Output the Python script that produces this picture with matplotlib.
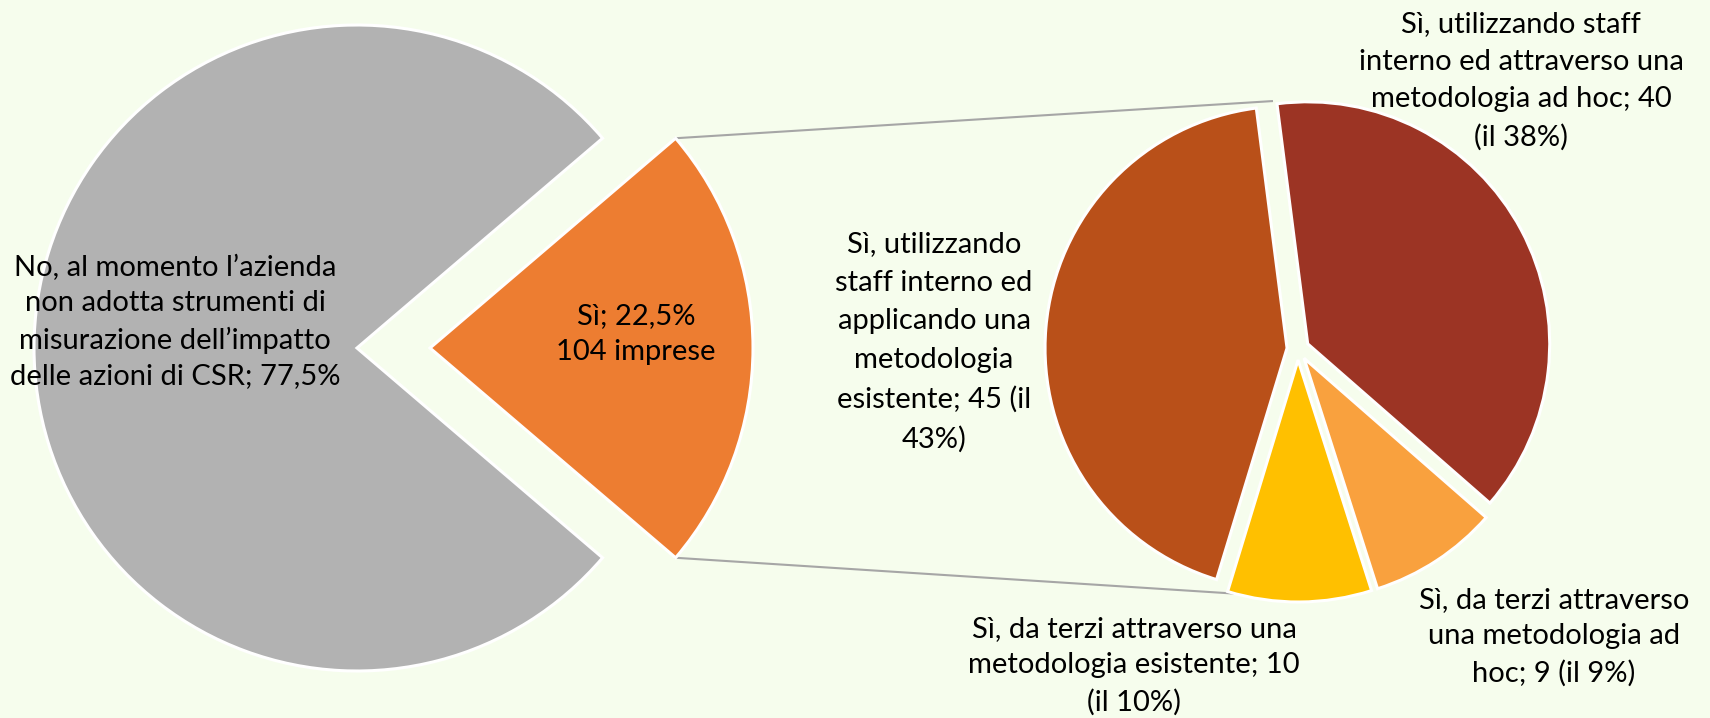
import numpy as np
import matplotlib
matplotlib.use('Agg')
import matplotlib.pyplot as plt

# Data ------------------------------------------------------------------
main_labels = ['No, al momento l\u2019azienda\nnon adotta strumenti di\nmisurazione dell\u2019impatto\ndelle azioni di CSR; 77,5%',
               'S\u00ec; 22,5%\n104 imprese']
main_values = [77.5, 22.5]
main_colors = ['#B2B2B2', '#ED7D31']

sub_labels = ['S\u00ec, utilizzando staff\ninterno ed attraverso una\nmetodologia ad hoc; 40\n(il 38%)',
              'S\u00ec, da terzi attraverso\nuna metodologia ad\nhoc; 9 (il 9%)',
              'S\u00ec, da terzi attraverso una\nmetodologia esistente; 10\n(il 10%)',
              'S\u00ec, utilizzando\nstaff interno ed\napplicando una\nmetodologia\nesistente; 45 (il\n43%)']
sub_values = [40, 9, 10, 45]
sub_colors = ['#9C3424', '#F9A13E', '#FFC000', '#B95019']

bg = '#F6FDED'
plt.rcParams['font.family'] = ['Lato', 'DejaVu Sans']

# Figure: one axes in pixel units (y up) ---------------------------------
W, H = 1710, 718
fig = plt.figure(figsize=(W / 100, H / 100), dpi=100, facecolor=bg)
ax = fig.add_axes([0, 0, 1, 1])
ax.set_facecolor(bg)

# main pie (explode is in data units here)
c1 = (357, H - 348)
r1 = 323
off1 = 73
half = main_values[1] / 100 * 360 / 2
ax.pie(main_values, colors=main_colors, startangle=half, counterclock=True,
       explode=[0, off1], center=c1, radius=r1,
       wedgeprops=dict(edgecolor='white', linewidth=2.2))

# secondary pie
c2 = (1298, H - 349)
r2 = 242
ax.pie(sub_values, colors=sub_colors, startangle=97.3, counterclock=False,
       explode=[11] * 4, center=c2, radius=r2,
       wedgeprops=dict(edgecolor='white', linewidth=2.2))

# connector lines from the orange slice to the secondary pie
oc = (c1[0] + off1, c1[1])
for a_from, a_to in [(half, 96), (-half, -99)]:
    x0 = oc[0] + r1 * np.cos(np.radians(a_from))
    y0 = oc[1] + r1 * np.sin(np.radians(a_from))
    x1 = c2[0] + r2 * 1.03 * np.cos(np.radians(a_to))
    y1 = c2[1] + r2 * 1.03 * np.sin(np.radians(a_to))
    ax.plot([x0, x1], [y0, y1], color='#A6A6A6', lw=1.5, zorder=0)

# labels
fs = 21
kw = dict(ha='center', va='center', fontsize=fs, color='black')
ax.text(175, H - 322, main_labels[0], linespacing=1.45, **kw)
ax.text(636, H - 334, main_labels[1], linespacing=1.45, **kw)
ax.text(1521, H - 81, sub_labels[0], linespacing=1.55, **kw)
ax.text(1554, H - 637, sub_labels[1], linespacing=1.5, **kw)
ax.text(1134, H - 666, sub_labels[2], linespacing=1.5, **kw)
ax.text(934, H - 342, sub_labels[3], linespacing=1.6, **kw)

ax.set_xlim(0, W)
ax.set_ylim(0, H)
ax.set_aspect('equal')
ax.axis('off')

fig.savefig('out.png', dpi=100, facecolor=bg)
